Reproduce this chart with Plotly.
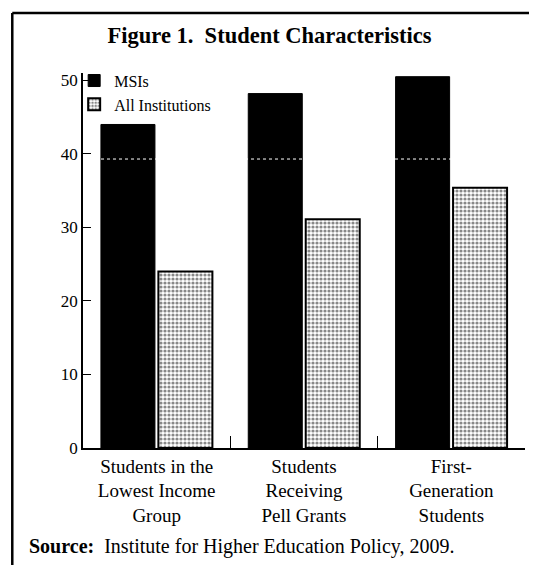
import plotly.graph_objects as go

categories = ["Students in the<br>Lowest Income<br>Group",
              "Students<br>Receiving<br>Pell Grants",
              "First-<br>Generation<br>Students"]
msi_values = [44, 48.2, 50.5]
all_values = [24, 31.1, 35.4]
y_ticks = [0, 10, 20, 30, 40, 50]

FONT = "Liberation Serif"

fig = go.Figure()

fig.add_trace(go.Bar(
    x=categories,
    y=msi_values,
    name="MSIs",
    marker=dict(color="black", line=dict(color="black", width=1)),
))

fig.add_trace(go.Bar(
    x=categories,
    y=all_values,
    name="All Institutions",
    marker=dict(
        color="white",
        line=dict(color="black", width=2),
        pattern=dict(shape=".", fgcolor="#111", bgcolor="white", size=4, solidity=0.5),
    ),
))

# faint white scan line across the black bars
fig.add_hline(y=39.3, line=dict(color="white", width=1, dash="dot"), layer="above")

# page box: only top and left edges are visible in the scan
fig.add_shape(type="line", xref="paper", yref="paper",
              x0=-0.16, x1=1.2, y0=1.16, y1=1.16,
              line=dict(color="black", width=2.5))
fig.add_shape(type="line", xref="paper", yref="paper",
              x0=-0.16, x1=-0.16, y0=1.16, y1=-0.4,
              line=dict(color="black", width=2.5))

fig.add_annotation(
    text="<b>Source:</b>  Institute for Higher Education Policy, 2009.",
    xref="paper", yref="paper", x=-0.127, y=-0.262,
    xanchor="left", yanchor="middle", showarrow=False,
    font=dict(family=FONT, size=20, color="black"),
)

fig.update_layout(
    width=537,
    height=565,
    title=dict(text="<b>Figure 1.  Student Characteristics</b>", x=0.487, xanchor="center",
               y=0.952, yanchor="middle",
               font=dict(family=FONT, size=22.5, color="black")),
    font=dict(family=FONT, size=17, color="black"),
    margin=dict(l=75, r=20, t=65, b=125),
    plot_bgcolor="white",
    paper_bgcolor="white",
    barmode="group",
    bargap=0.22,
    bargroupgap=0.06,
    showlegend=True,
    legend=dict(x=-0.02, y=1.025, xanchor="left", yanchor="top",
                bgcolor="rgba(0,0,0,0)", tracegroupgap=0,
                font=dict(family=FONT, size=16), itemwidth=30),
)

fig.update_yaxes(range=[0, 51], tickvals=y_ticks, ticks="inside", ticklen=8,
                 tickcolor="black", showline=True, linecolor="black", linewidth=1.5,
                 showgrid=False, zeroline=False, tickfont=dict(size=17))
fig.update_xaxes(ticks="inside", tickson="boundaries", ticklen=12, tickcolor="black",
                 showline=True, linecolor="black", linewidth=1.5, showgrid=False,
                 tickfont=dict(size=19))

fig.write_html("out.html")
